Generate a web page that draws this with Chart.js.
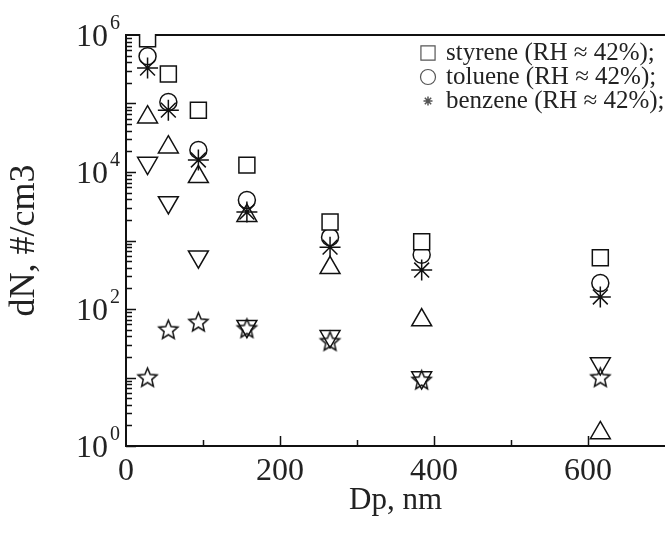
<!DOCTYPE html>
<html lang="en">
<head>
  <meta charset="UTF-8" />
  <title>dN vs Dp</title>
  <style>
    body { margin: 0; background: #fff; }
    #wrap { width: 665px; height: 535px; }
  </style>
  <script src="https://cdn.jsdelivr.net/npm/chart.js"></script>
</head>
<body>
  <div id="wrap"><canvas id="dnChart" width="665" height="535"></canvas></div>

  <script>
    // particle diameter, nm
    const dp = [28, 55, 94, 157, 265, 384, 616];

    // number concentration, #/cm3
    const styrene = [8.8e5, 2.7e5, 8.0e4, 1.26e4, 1.86e3, 9.6e2, 5.6e2];
    const toluene = [4.9e5, 1.05e5, 2.1e4, 3.9e3, 1.12e3, 6.2e2, 2.4e2];
    const benzene = [3.3e5, 8.0e4, 1.5e4, 2.6e3, 8.0e2, 3.7e2, 1.5e2];
    const setUp   = [6.3e4, 2.3e4, 8.5e3, 2.3e3, 4.0e2, 69, 1.55];
    const setDown = [1.35e4, 3.6e3, 5.8e2, 56, 40, 10, 16];
    const setStar = [9.8, 49, 63, 51, 33, 9, 9.8];

    const xTicks = [0, 200, 400, 600];
    const xMinor = [100, 300, 500];
    const yTickExp = [0, 2, 4, 6];

    const ink = '#111';
    const serif = '"Liberation Serif", "Times New Roman", serif';

    // outlined five-point star used as a point style
    function starImage(r, lw) {
      const c = document.createElement('canvas');
      const s = Math.ceil(2 * r + 2 * lw + 2);
      c.width = c.height = s;
      const g = c.getContext('2d');
      g.translate(s / 2, s / 2);
      g.beginPath();
      for (let i = 0; i < 10; i++) {
        const rr = i % 2 ? r * 0.45 : r;
        const a = -Math.PI / 2 + i * Math.PI / 5;
        g.lineTo(rr * Math.cos(a), rr * Math.sin(a));
      }
      g.closePath();
      g.lineWidth = lw;
      g.strokeStyle = ink;
      g.stroke();
      return c;
    }

    const pts = arr => arr.map((v, i) => ({ x: dp[i], y: v }));

    function series(label, data, style, radius, extra) {
      return Object.assign({
        label: label,
        data: pts(data),
        showLine: false,
        pointStyle: style,
        pointRadius: radius,
        pointBorderColor: ink,
        pointBackgroundColor: 'rgba(0,0,0,0)',
        pointBorderWidth: 1.5,
        clip: { left: false, top: 1, right: false, bottom: false }
      }, extra || {});
    }

    // tick marks pointing inward + top frame line
    const frameTicks = {
      id: 'frameTicks',
      beforeDatasetsDraw(chart) {
        const { ctx, chartArea: a, scales: { x, y } } = chart;
        ctx.save();
        ctx.strokeStyle = ink;
        ctx.lineWidth = 2;
        ctx.beginPath();
        ctx.moveTo(a.left, a.top);
        ctx.lineTo(a.right, a.top);
        ctx.stroke();

        ctx.lineWidth = 1.5;
        ctx.beginPath();
        xTicks.concat(xMinor).forEach(v => {
          if (v === 0) return;
          const px = Math.round(x.getPixelForValue(v)) + 0.5;
          const len = xTicks.includes(v) ? 10 : 6;
          ctx.moveTo(px, a.bottom);
          ctx.lineTo(px, a.bottom - len);
        });
        for (let d = 0; d < 6; d++) {
          for (let k = 1; k < 10; k++) {
            const v = k * Math.pow(10, d);
            const py = Math.round(y.getPixelForValue(v)) + 0.5;
            const len = k === 1 ? 10 : 6;
            ctx.moveTo(a.left, py);
            ctx.lineTo(a.left + len, py);
          }
        }
        ctx.stroke();
        ctx.restore();
      }
    };

    // 10^n labels on the log axis
    const powerLabels = {
      id: 'powerLabels',
      afterDraw(chart) {
        const { ctx, scales: { y } } = chart;
        ctx.save();
        ctx.fillStyle = '#222';
        ctx.textBaseline = 'middle';
        yTickExp.forEach(e => {
          const py = y.getPixelForValue(Math.pow(10, e));
          ctx.font = '32px ' + serif;
          ctx.textAlign = 'right';
          ctx.fillText('10', y.right - 18, py + 3);
          ctx.font = '20px ' + serif;
          ctx.textAlign = 'left';
          ctx.fillText(String(e), y.right - 16, py - 11);
        });
        ctx.restore();
      }
    };

    // legend for the labelled sets, top right inside the frame
    const innerLegend = {
      id: 'innerLegend',
      afterDraw(chart) {
        const { ctx, chartArea: a } = chart;
        const sizes = [10, 7.5, 4.5];
        ctx.save();
        ctx.font = '25px ' + serif;
        ctx.textBaseline = 'middle';
        ctx.textAlign = 'left';
        let row = 0;
        chart.data.datasets.forEach(ds => {
          if (!ds.label) return;
          const cy = a.top + 18 + row * 24;
          ctx.fillStyle = 'rgba(0,0,0,0)';
          ctx.strokeStyle = '#555';
          ctx.lineWidth = ds.pointStyle === 'star' ? 1.5 : 1.2;
          Chart.helpers.drawPoint(ctx, {
            pointStyle: ds.pointStyle, radius: sizes[row], rotation: 0, borderWidth: ctx.lineWidth
          }, a.right - 237, cy);
          ctx.fillStyle = '#222';
          ctx.fillText(ds.label, a.right - 219, cy);
          row++;
        });
        ctx.restore();
      }
    };

    new Chart(document.getElementById('dnChart'), {
      type: 'scatter',
      data: {
        datasets: [
          series('styrene (RH \u2248 42%);', styrene, 'rect', 11.3, { pointBackgroundColor: '#fff' }),
          series('toluene (RH \u2248 42%);', toluene, 'circle', 8.5),
          series('benzene (RH \u2248 42%);', benzene, 'star', 10.5),
          series('', setUp, 'triangle', 11.5),
          series('', setDown, 'triangle', 11.5, { pointRotation: 180 }),
          series('', setStar, starImage(10, 1.5), 10)
        ]
      },
      options: {
        responsive: false,
        animation: false,
        events: [],
        layout: { autoPadding: false, padding: { top: 35, right: 0, left: 0, bottom: 0 } },
        plugins: { legend: { display: false }, tooltip: { enabled: false } },
        scales: {
          x: {
            type: 'linear', min: 0, max: 700,
            afterBuildTicks: s => { s.ticks = xTicks.map(v => ({ value: v })); },
            afterFit: s => { s.height = 89; s.paddingLeft = 0; s.paddingRight = 0; },
            grid: { display: false, drawTicks: false },
            border: { display: true, color: ink, width: 2 },
            ticks: { font: { family: serif, size: 32 }, color: '#222', padding: 6, maxRotation: 0, autoSkip: false },
            title: { display: true, text: 'Dp, nm', color: '#222', font: { family: serif, size: 31 }, padding: { top: 0, bottom: 16 } }
          },
          y: {
            type: 'logarithmic', min: 1, max: 1e6,
            afterFit: s => { s.width = 126; },
            grid: { display: false, drawTicks: false },
            border: { display: true, color: ink, width: 2 },
            ticks: { display: false },
            title: { display: true, text: 'dN, #/cm3', color: '#222', font: { family: serif, size: 36 }, padding: { top: 3, bottom: 0 } }
          }
        }
      },
      plugins: [frameTicks, powerLabels, innerLegend]
    });
  </script>
</body>
</html>
